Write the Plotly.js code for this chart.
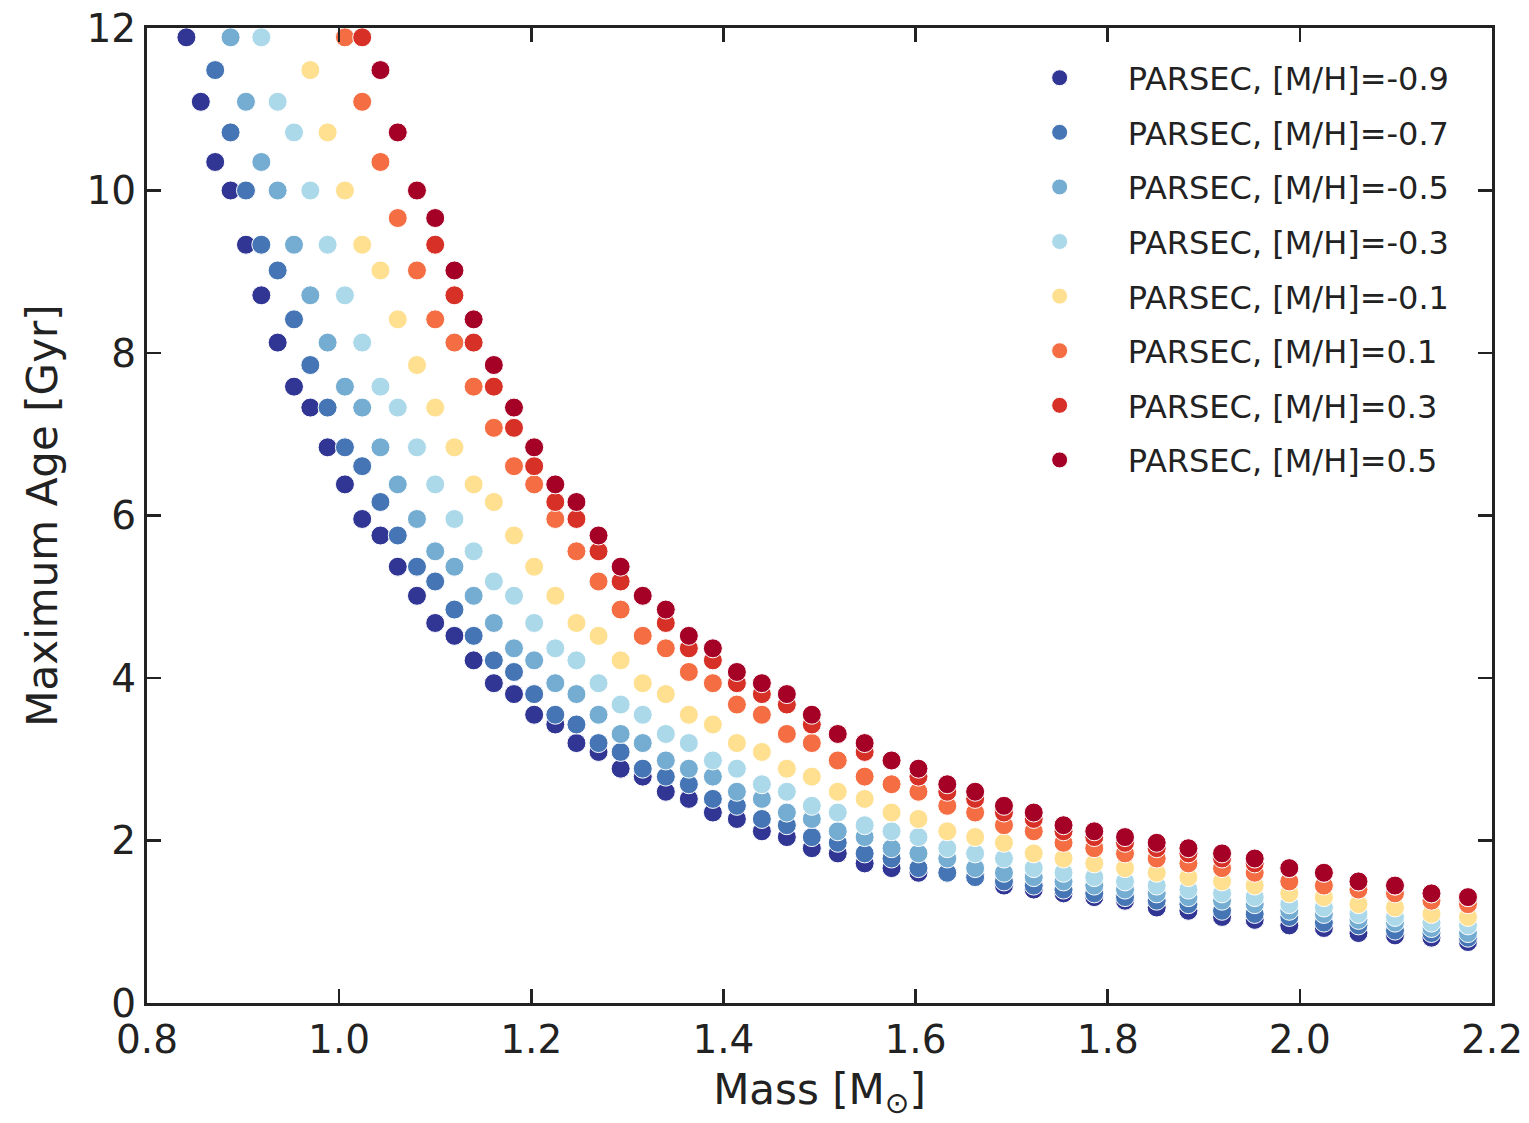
<!DOCTYPE html>
<html>
<head>
<meta charset="utf-8">
<script src="https://cdn.plot.ly/plotly-3.0.1.min.js"></script>
<style>
html,body{margin:0;padding:0;background:#fff;}
#chart{width:1529px;height:1123px;}
</style>
</head>
<body>
<div id="chart"></div>
<script>
// Stellar mass grid [M_sun] (shared by all metallicities)
const mass = [0.841,0.856,0.871,0.887,0.903,0.919,0.936,0.953,0.970,0.988,
  1.006,1.024,1.043,1.061,1.081,1.100,1.120,1.140,1.161,1.182,
  1.203,1.225,1.247,1.270,1.293,1.316,1.340,1.364,1.389,1.414,
  1.440,1.466,1.492,1.519,1.547,1.575,1.603,1.633,1.662,1.692,
  1.723,1.754,1.786,1.818,1.851,1.884,1.919,1.953,1.989,2.025,
  2.061,2.099,2.137,2.175];

// Maximum age [Gyr] per metallicity (null = above plotted range)
const age_m09 = [11.885,11.092,10.351,10.0,9.333,8.71,8.128,7.586,7.328,6.839,
  6.383,5.957,5.754,5.37,5.012,4.677,4.519,4.217,3.936,3.802,
  3.548,3.428,3.199,3.09,2.884,2.786,2.6,2.512,2.344,2.265,
  2.113,2.042,1.905,1.841,1.718,1.66,1.603,1.603,1.549,1.445,
  1.396,1.349,1.303,1.259,1.175,1.135,1.059,1.023,0.955,0.923,
  0.861,0.832,0.804,0.75];
const age_m07 = [null,null,11.482,10.715,10.0,9.333,9.016,8.414,7.852,7.328,
  6.839,6.607,6.166,5.754,5.37,5.188,4.842,4.519,4.217,4.074,
  3.802,3.548,3.428,3.199,3.09,2.884,2.786,2.692,2.512,2.427,
  2.265,2.188,2.042,1.972,1.841,1.778,1.66,1.603,1.549,1.496,
  1.445,1.396,1.349,1.303,1.259,1.216,1.135,1.096,1.059,0.989,
  0.955,0.891,0.861,0.804];
const age_m05 = [null,null,null,11.885,11.092,10.351,10.0,9.333,8.71,8.128,
  7.586,7.328,6.839,6.383,5.957,5.559,5.37,5.012,4.677,4.365,
  4.217,3.936,3.802,3.548,3.311,3.199,2.985,2.884,2.786,2.6,
  2.512,2.344,2.265,2.113,2.042,1.905,1.841,1.778,1.66,1.603,
  1.549,1.496,1.445,1.396,1.349,1.303,1.259,1.216,1.135,1.096,
  1.023,0.989,0.923,0.861];
const age_m03 = [null,null,null,null,null,11.885,11.092,10.715,10.0,9.333,
  8.71,8.128,7.586,7.328,6.839,6.383,5.957,5.559,5.188,5.012,
  4.677,4.365,4.217,3.936,3.673,3.548,3.311,3.199,2.985,2.884,
  2.692,2.6,2.427,2.344,2.188,2.113,2.042,1.905,1.841,1.778,
  1.66,1.603,1.549,1.496,1.445,1.396,1.349,1.303,1.216,1.175,
  1.096,1.059,0.989,0.955];
const age_m01 = [null,null,null,null,null,null,null,null,11.482,10.715,
  10.0,9.333,9.016,8.414,7.852,7.328,6.839,6.383,6.166,5.754,
  5.37,5.012,4.677,4.519,4.217,3.936,3.802,3.548,3.428,3.199,
  3.09,2.884,2.786,2.6,2.512,2.344,2.265,2.113,2.042,1.972,
  1.841,1.778,1.718,1.66,1.603,1.549,1.496,1.445,1.349,1.303,
  1.216,1.175,1.096,1.059];
const age_p01 = [null,null,null,null,null,null,null,null,null,null,
  11.885,11.092,10.351,9.661,9.016,8.414,8.128,7.586,7.079,6.607,
  6.383,5.957,5.559,5.188,4.842,4.519,4.365,4.074,3.936,3.673,
  3.548,3.311,3.199,2.985,2.786,2.692,2.6,2.427,2.344,2.188,
  2.113,1.972,1.905,1.841,1.778,1.718,1.66,1.603,1.496,1.445,
  1.396,1.349,1.259,1.216];
const age_p03 = [null,null,null,null,null,null,null,null,null,null,
  null,11.885,11.482,10.715,10.0,9.333,8.71,8.128,7.586,7.079,
  6.607,6.166,5.957,5.559,5.188,5.012,4.677,4.365,4.217,3.936,
  3.802,3.673,3.428,3.311,3.09,2.985,2.786,2.6,2.512,2.344,
  2.265,2.113,2.042,1.972,1.905,1.841,1.778,1.718,1.66,1.603,
  1.496,1.445,1.349,1.303];
const age_p05 = [null,null,null,null,null,null,null,null,null,null,
  null,null,11.482,10.715,10.0,9.661,9.016,8.414,7.852,7.328,
  6.839,6.383,6.166,5.754,5.37,5.012,4.842,4.519,4.365,4.074,
  3.936,3.802,3.548,3.311,3.199,2.985,2.884,2.692,2.6,2.427,
  2.344,2.188,2.113,2.042,1.972,1.905,1.841,1.778,1.66,1.603,
  1.496,1.445,1.349,1.303];

const seriesNames = ["PARSEC, [M/H]=-0.9","PARSEC, [M/H]=-0.7","PARSEC, [M/H]=-0.5",
  "PARSEC, [M/H]=-0.3","PARSEC, [M/H]=-0.1","PARSEC, [M/H]=0.1",
  "PARSEC, [M/H]=0.3","PARSEC, [M/H]=0.5"];
const seriesAges = [age_m09,age_m07,age_m05,age_m03,age_m01,age_p01,age_p03,age_p05];
const seriesColors = ["#313695","#4575b4","#74add1","#abd9e9","#fee090","#f46d43","#d73027","#a50026"];

const traces = seriesNames.map((name,i)=>({
  type:"scatter", mode:"markers", name:name,
  x:mass, y:seriesAges[i],
  legendgroup:"g"+i,
  marker:{size:19, color:seriesColors[i], line:{color:"#ffffff", width:1}},
  cliponaxis:true
}));

const axisColor = "#222222";
const fontFam = "DejaVu Sans, sans-serif";

const layout = {
  width:1529, height:1123,
  margin:{l:147, r:37, t:28, b:120, pad:0},
  paper_bgcolor:"#ffffff", plot_bgcolor:"#ffffff",
  font:{family:fontFam, color:axisColor, size:39},
  showlegend:true,
  legend:{
    x:0.628, y:0.977, xanchor:"left", yanchor:"top",
    bgcolor:"rgba(0,0,0,0)", borderwidth:0,
    font:{family:fontFam, size:32, color:axisColor},
    traceorder:"grouped", tracegroupgap:10, itemwidth:126
  },
  xaxis:{
    range:[0.8,2.2], dtick:0.2, tick0:0.8, tickformat:".1f",
    showgrid:false, zeroline:false,
    showline:true, linewidth:3, linecolor:axisColor, mirror:"ticks",
    ticks:"inside", ticklen:14, tickwidth:2.5, tickcolor:axisColor,
    tickfont:{family:fontFam, size:39, color:axisColor},
    title:{text:"Mass [M<sub>⊙</sub>]", font:{family:fontFam, size:42, color:axisColor}, standoff:14}
  },
  yaxis:{
    range:[0,12], dtick:2, tick0:0,
    showgrid:false, zeroline:false,
    showline:true, linewidth:3, linecolor:axisColor, mirror:"ticks",
    ticks:"inside", ticklen:14, tickwidth:2.5, tickcolor:axisColor,
    tickfont:{family:fontFam, size:39, color:axisColor},
    title:{text:"Maximum Age [Gyr]", font:{family:fontFam, size:42, color:axisColor}, standoff:16}
  }
};

Plotly.newPlot("chart", traces, layout, {displayModeBar:false, staticPlot:true});
</script>
</body>
</html>
